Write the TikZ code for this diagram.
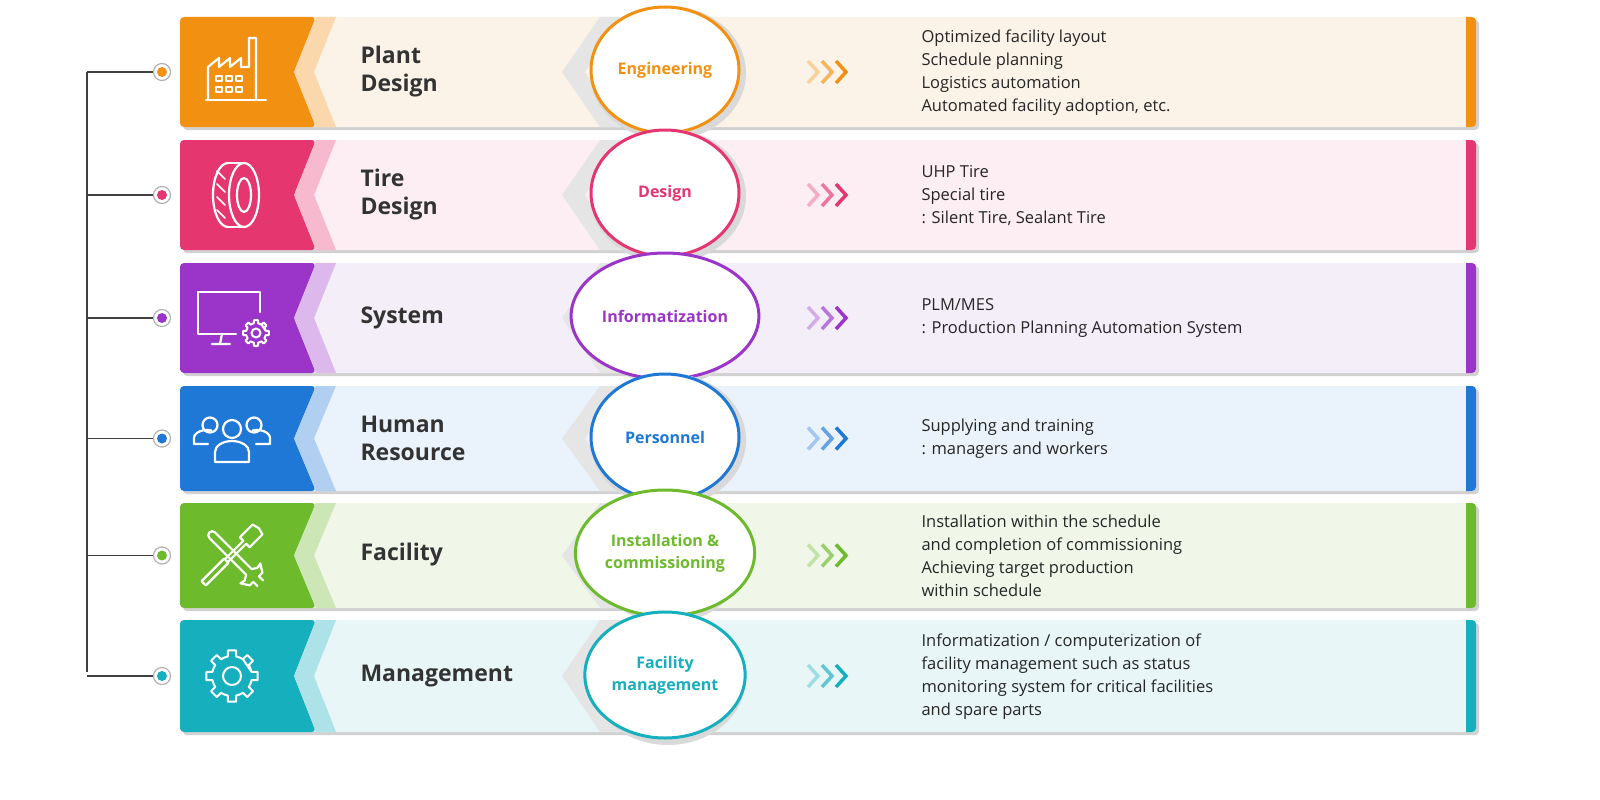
\documentclass[tikz,border=0pt]{standalone}
\usepackage{fontspec}
\setmainfont{Open Sans}
\setsansfont{Open Sans}
\usetikzlibrary{shapes.geometric}
\definecolor{c1}{HTML}{F29111}\definecolor{l1}{HTML}{FCF3E8}
\definecolor{c2}{HTML}{E5366F}\definecolor{l2}{HTML}{FCEEF3}
\definecolor{c3}{HTML}{9B35C9}\definecolor{l3}{HTML}{F4EEF9}
\definecolor{c4}{HTML}{1F78D6}\definecolor{l4}{HTML}{EAF2FB}
\definecolor{c5}{HTML}{6DBB2C}\definecolor{l5}{HTML}{F0F7E9}
\definecolor{c6}{HTML}{16AFBD}\definecolor{l6}{HTML}{E8F6F7}
\tikzset{
 title/.style={anchor=west,font=\fontsize{23}{28}\selectfont\bfseries,text=black!80,align=left},
 desc/.style={anchor=west,font=\fontsize{16.5}{23}\selectfont\sffamily,text=black!85,align=left},
 clab/.style={font=\fontsize{16}{22}\selectfont\bfseries,align=center},
 ico/.style={white,line width=2.2pt,line join=round,line cap=round},
 dot/.style={circle,draw=gray!60,fill=white,line width=1.2pt,minimum size=17pt,inner sep=0},
}
\newcommand{\rowbar}[5]{%
 \pgfmathsetmacro{\rmid}{(#1+#2)/2}%
 \fill[black!18,rounded corners=4pt] (183,#1+3) rectangle (1479,#2+3);
 \fill[#4,rounded corners=4pt] (180,#1) rectangle (1476,#2);
 \fill[#3,rounded corners=4pt] (1462,#1) rectangle (1476,#2);
 \fill[#4] (1455,#1) rectangle (1466,#2);
 \fill[#3,rounded corners=4pt] (180,#1) -- (316,#1) -- (294,\rmid) -- (316,#2) -- (180,#2) -- cycle;
 \fill[#3!35] (316,#1) -- (336,#1) -- (314,\rmid) -- (336,#2) -- (316,#2) -- (294,\rmid) -- cycle;
 \fill[black!10] (600,#1) -- (620,#1) -- (585,\rmid) -- (620,#2) -- (600,#2) -- (562,\rmid) -- cycle;
 \foreach \dx/\op in {0/0.35,14/0.65,28/1}{
   \draw[#3,opacity=\op,line width=3.5pt] (808+\dx,\rmid-11) -- (818+\dx,\rmid) -- (808+\dx,\rmid+11);}
 \node[dot] (d#5) at (162,\rmid) {};
 \fill[#3] (d#5) circle (5pt);
 \draw[black!75,line width=1.6pt] (87,\rmid) -- (d#5);
}
\newcommand{\gearicon}[3]{%
 \begin{scope}[shift={(#1,#2)}]
 \draw[ico,line width=2pt] \foreach \a in {0,45,...,315}{
   ({\a-12}:#3) -- ({\a-9}:#3*1.3) -- ({\a+9}:#3*1.3) -- ({\a+12}:#3) arc ({\a+12}:{\a+33}:#3)} -- cycle;
 \draw[ico,line width=2pt] (0,0) circle (#3*0.45);
 \end{scope}}
\begin{document}
\begin{tikzpicture}[x=1pt,y=-1pt]
\useasboundingbox (0,0) rectangle (1600,800);
\fill[white] (0,0) rectangle (1600,800);
\draw[black!75,line width=1.6pt] (87,72) -- (87,672);
\rowbar{17}{127}{c1}{l1}{a}
\rowbar{140}{250}{c2}{l2}{b}
\rowbar{263}{373}{c3}{l3}{c}
\rowbar{386}{491}{c4}{l4}{d}
\rowbar{503}{608}{c5}{l5}{e}
\rowbar{620}{732}{c6}{l6}{f}
\node[title] (ta) at (357,72) {Plant\\Design};
\node[title] (tb) at (357,195) {Tire\\Design};
\node[title] (tc) at (357,318) {System};
\node[title] (td) at (357,438) {Human\\Resource};
\node[title] (te) at (357,555) {Facility};
\node[title] (tf) at (357,676) {Management};
\foreach \n/\y/\c/\t in {a/70/c1/Engineering,b/193/c2/Design,c/316/c3/Informatization,d/437/c4/Personnel,e/553/c5/{Installation \&\\commissioning},f/675/c6/{Facility\\management}}{
 \node[ellipse,fill=black!15,minimum width=156pt,minimum height=134pt] at (668,\y+3) {};
 \node[ellipse,fill=white,draw=\c,line width=3pt,minimum width=148pt,minimum height=126pt,text=\c,clab] (e\n) at (665,\y) {\t};
}
\node[desc] (xa) at (918,73) {Optimized facility layout\\Schedule planning\\Logistics automation\\Automated facility adoption, etc.};
\node[desc] (xb) at (918,196) {UHP Tire\\Special tire\\: Silent Tire, Sealant Tire};
\node[desc] (xc) at (918,318) {PLM/MES\\: Production Planning Automation System};
\node[desc] (xd) at (918,439) {Supplying and training\\: managers and workers};
\node[desc] (xe) at (918,556) {Installation within the schedule\\and completion of commissioning\\Achieving target production\\within schedule};
\node[desc] (xf) at (918,677) {Informatization / computerization of\\facility management such as status\\monitoring system for critical facilities\\and spare parts};
% factory
\begin{scope}[shift={(236,72)}]
 \draw[ico] (-30,28) -- (30,28);
 \draw[ico] (-28,28) -- (-28,-5) -- (-17,-14) -- (-17,-5) -- (-6,-14) -- (-6,-5) -- (5,-14) -- (5,-5) -- (13,-5) -- (13,-34) -- (20,-34) -- (20,28);
 \foreach \i in {-20,-10,0}{\foreach \j in {4,15}{\draw[ico,line width=1.6pt] (\i,\j) rectangle ++(6,5);}}
\end{scope}
% tire
\begin{scope}[shift={(236,195)}]
 \draw[ico] (-8,0) ellipse (15 and 32);
 \fill[c2] (-8,-34) rectangle (10,34);
 \draw[ico] (-8,-32) -- (8,-32) (-8,32) -- (8,32);
 \draw[ico] (8,0) ellipse (15 and 32);
 \draw[ico] (8,0) ellipse (7 and 17);
 \foreach \yy in {-20,-7,6,19}{\draw[ico,line width=1.5pt] (-19,\yy-4) -- (-11,\yy+4);}
\end{scope}
% monitor
\begin{scope}[shift={(230,318)}]
 \draw[ico] (6,16) -- (-32,16) -- (-32,-26) -- (30,-26) -- (30,-6);
 \draw[ico] (-8,16) -- (-10,26) (-18,26) -- (0,26);
\end{scope}
\gearicon{256}{333}{10}
% people
\begin{scope}[shift={(232,438)}]
 \draw[ico] (0,-9) circle (9);
 \draw[ico] (-17,24) -- (-17,14) arc (180:360:17 and 11) -- (17,24) -- cycle;
 \draw[ico] (-22,-13) circle (7.5);
 \draw[ico] (-24,6) -- (-38,6) -- (-38,0) arc (180:290:13 and 8);
 \draw[ico] (22,-13) circle (7.5);
 \draw[ico] (24,6) -- (38,6) -- (38,0) arc (360:250:13 and 8);
\end{scope}
% tools
\begin{scope}[shift={(232,555)}]
 \begin{scope}[rotate=45]
  \draw[ico] (-40,-3) -- (-8,-3) -- (-8,3) -- (-40,3) -- cycle;
  \draw[ico] (-8,-2) -- (18,-2) -- (18,-7) -- (36,-7) -- (38,0) -- (36,7) -- (18,7) -- (18,2) -- (-8,2);
 \end{scope}
 \begin{scope}[rotate=-45]
  \draw[ico] (-28,-4) -- (24,-4) (-28,4) -- (24,4);
  \draw[ico] (-28,4) arc (90:270:4);
  \draw[ico] (24,-4) -- (27,-9) -- (26,-14) -- (34,-9) -- (34,-4) -- (40,-4) (24,4) -- (27,9) -- (26,14) -- (34,9) -- (34,4) -- (40,4);
 \end{scope}
\end{scope}
\gearicon{232}{676}{20}
\end{tikzpicture}
\end{document}
